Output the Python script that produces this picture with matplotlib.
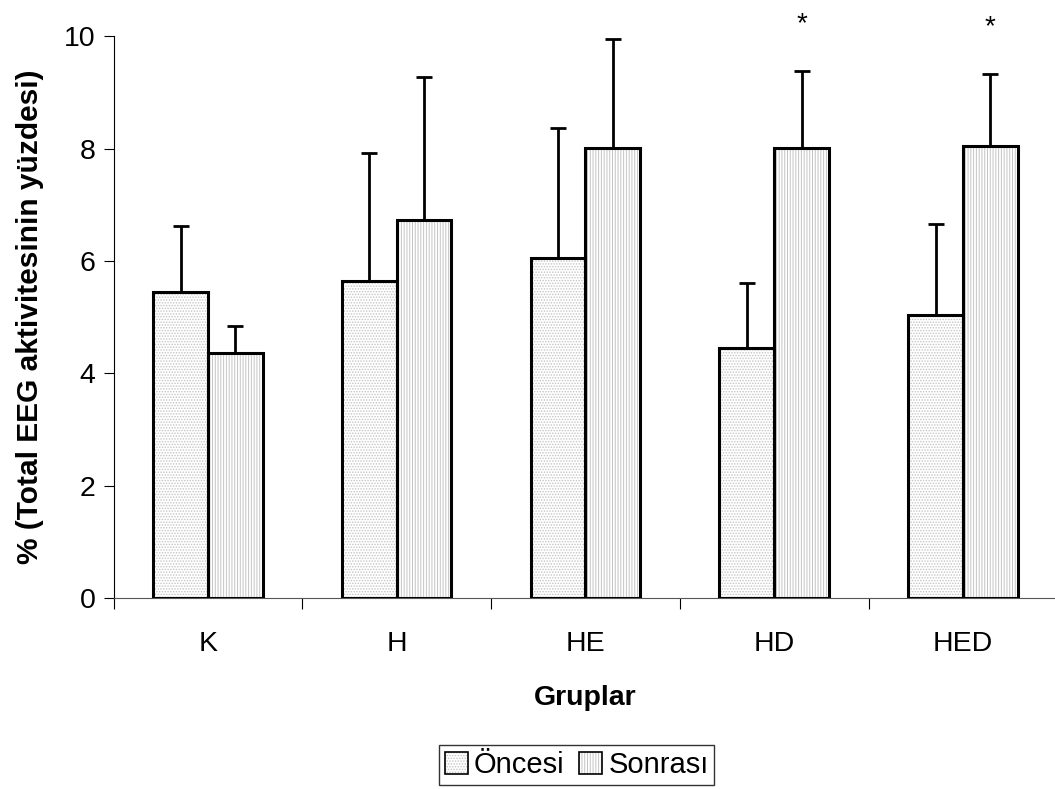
import matplotlib
matplotlib.use("Agg")
import matplotlib.pyplot as plt
from matplotlib.legend_handler import HandlerTuple
from matplotlib.patches import Patch
import numpy as np

plt.rcParams['font.family'] = ['Liberation Sans', 'DejaVu Sans']
plt.rcParams['hatch.linewidth'] = 0.7

groups = ["K", "H", "HE", "HD", "HED"]
oncesi = [5.44, 5.64, 6.05, 4.46, 5.04]
oncesi_err = [1.18, 2.28, 2.31, 1.14, 1.61]
sonrasi = [4.36, 6.73, 8.02, 8.02, 8.04]
sonrasi_err = [0.49, 2.54, 1.94, 1.36, 1.29]
significant = [False, False, False, True, True]

fig = plt.figure(figsize=(10.55, 7.89), dpi=100)
ax = fig.add_axes([0.1077, 0.242, 0.8945, 0.712])

x = np.arange(len(groups))
w = 0.29
hcol = '#c4c4c4'
ekw = dict(elinewidth=2.0, capthick=2.0, capsize=6, ecolor='black', zorder=1)
zeros = np.zeros(len(x))

# hatch fills
ax.bar(x - w/2, oncesi, w, color='white', edgecolor=hcol, linewidth=0,
       hatch='......', zorder=2)
ax.bar(x + w/2, sonrasi, w, color='white', edgecolor=hcol, linewidth=0,
       hatch='||||||', zorder=2)
# outlines with error bars
ax.bar(x - w/2, oncesi, w, fill=False, edgecolor='black', linewidth=2.2,
       zorder=3, yerr=[zeros, oncesi_err], error_kw=ekw)
ax.bar(x + w/2, sonrasi, w, fill=False, edgecolor='black', linewidth=2.2,
       zorder=3, yerr=[zeros, sonrasi_err], error_kw=ekw)

for i, s in enumerate(significant):
    if s:
        ax.text(x[i] + w/2, sonrasi[i] + sonrasi_err[i] + 0.6, '*',
                ha='center', va='bottom', fontsize=20)

ax.set_xlim(-0.5, 4.5)
ax.set_ylim(0, 10)
ax.set_yticks([0, 2, 4, 6, 8, 10])
ax.set_xticks(x)
ax.set_xticklabels(groups, fontsize=20.5)
ax.set_xticks(np.arange(-0.5, 4.6, 1), minor=True)
ax.tick_params(axis='x', which='major', length=0, pad=24)
ax.tick_params(axis='x', which='minor', length=8, width=0.8, direction='out')
ax.tick_params(axis='y', labelsize=20.5, length=7, width=0.8, direction='out', pad=6)
for sp in ['top', 'right']:
    ax.spines[sp].set_visible(False)
ax.spines['left'].set_linewidth(0.8)
ax.spines['bottom'].set_linewidth(0.8)
ax.spines['bottom'].set_color('#555555')

ax.set_xlabel('Gruplar', fontsize=20.5, fontweight='bold', labelpad=20)
ax.set_ylabel('% (Total EEG aktivitesinin yüzdesi)', fontsize=21.5, fontweight='bold', labelpad=14)

h1 = (Patch(facecolor='white', edgecolor=hcol, hatch='......', linewidth=0),
      Patch(fill=False, edgecolor='black', linewidth=1.2))
h2 = (Patch(facecolor='white', edgecolor=hcol, hatch='||||||', linewidth=0),
      Patch(fill=False, edgecolor='black', linewidth=1.2))
leg = fig.legend([h1, h2], ['Öncesi', 'Sonrası'], loc='center',
                 bbox_to_anchor=(0.5465, 0.030), ncol=2, fontsize=21,
                 handler_map={tuple: HandlerTuple(ndivide=1)},
                 frameon=True, fancybox=False, edgecolor='black', handlelength=0.8,
                 handleheight=0.8, handletextpad=0.2, columnspacing=0.5, borderpad=0.2,
                 borderaxespad=0)
leg.get_frame().set_linewidth(1.0)

fig.savefig('out.png', dpi=100)
